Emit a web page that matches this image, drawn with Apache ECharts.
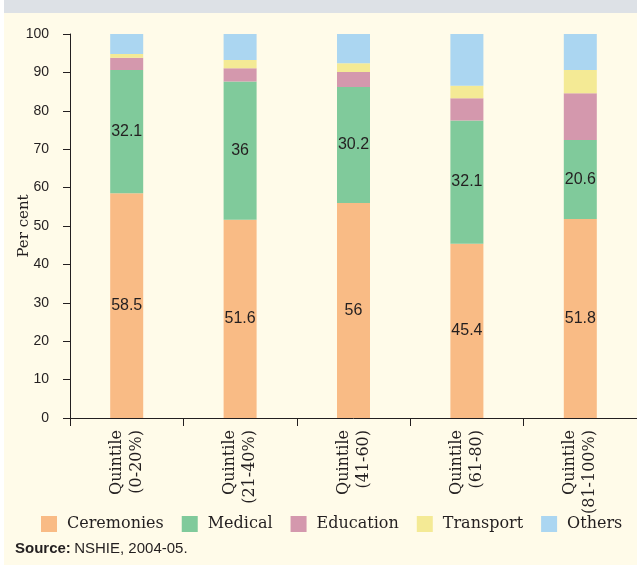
<!DOCTYPE html>
<html>
<head>
<meta charset="utf-8">
<script src="https://cdn.jsdelivr.net/npm/echarts@6/dist/echarts.min.js"></script>
<style>
	html, body { margin: 0; padding: 0; background: #fffbe9; }
	#chart { width: 637px; height: 565px; }
</style>
</head>
<body>
<div id="chart"></div>
<script>
// categories and stacked shares (per cent)
const quintiles = ['Quintile\n(0-20%)', 'Quintile\n(21-40%)', 'Quintile\n(41-60)', 'Quintile\n(61-80)', 'Quintile\n(81-100%)']
const ceremonies = [58.5, 51.6, 56, 45.4, 51.8]
const medical = [32.1, 36, 30.2, 32.1, 20.6]
const education = [3.2, 3.5, 3.9, 5.8, 12.2]
const transport = [1.0, 2.1, 2.3, 3.2, 6.0]
const others = [5.2, 6.8, 7.6, 13.5, 9.4]

const colors = ['#f9bb85', '#80ca9b', '#d498ad', '#f4ea95', '#abd6f1']
const serif = 'DejaVu Serif'
const sans = 'Liberation Sans'

const chart = echarts.init(document.getElementById('chart'))

const mkSeries = (name, data, showLabel) => {
	return {
		name: name,
		type: 'bar',
		stack: 'total',
		barWidth: 33,
		data: data,
		label: {
			show: showLabel,
			position: 'inside',
			color: '#231f20',
			fontFamily: sans,
			fontSize: 16,
		},
		emphasis: { disabled: true },
	}
}

const options = {
	backgroundColor: '#fffbe9',
	animation: false,
	color: colors,
	grid: {
		left: 70,
		right: 0,
		top: 34,
		bottom: 147,
		containLabel: false,
		outerBoundsMode: 'none',
	},
	graphic: [
		{
			type: 'rect',
			left: 0,
			top: 0,
			shape: { width: 637, height: 13 },
			style: { fill: '#dde1e6' },
		},
		{
			type: 'rect',
			left: 0,
			top: 0,
			shape: { width: 4, height: 565 },
			style: { fill: '#ffffff' },
		},
		{
			type: 'text',
			left: 15,
			top: 541,
			style: {
				text: '{b|Source:} {n|NSHIE, 2004-05.}',
				rich: {
					b: { fontFamily: sans, fontWeight: 'bold', fontSize: 15, fill: '#231f20' },
					n: { fontFamily: sans, fontSize: 15, fill: '#231f20' },
				},
			},
		},
	],
	legend: {
		left: 36,
		top: 511,
		itemWidth: 16,
		itemHeight: 16,
		itemGap: 18,
		icon: 'rect',
		textStyle: {
			fontFamily: serif,
			fontSize: 16,
			color: '#231f20',
			padding: [0, 0, 0, 5],
		},
		data: ['Ceremonies', 'Medical', 'Education', 'Transport', 'Others'],
	},
	xAxis: {
		type: 'category',
		data: quintiles,
		axisLine: { lineStyle: { color: '#231f20', width: 1 } },
		axisTick: { show: true, length: 8, lineStyle: { color: '#231f20' } },
		axisLabel: {
			rotate: 90,
			margin: 12,
			fontFamily: serif,
			fontSize: 16,
			lineHeight: 20,
			color: '#231f20',
		},
	},
	yAxis: {
		type: 'value',
		min: 0,
		max: 100,
		interval: 10,
		name: 'Per cent',
		nameLocation: 'middle',
		nameGap: 38,
		nameMoveOverlap: false,
		nameTextStyle: {
			fontFamily: serif,
			fontSize: 15,
			color: '#231f20',
		},
		axisLine: { show: true, lineStyle: { color: '#231f20', width: 1 } },
		axisTick: { show: true, length: 7, lineStyle: { color: '#231f20' } },
		splitLine: { show: false },
		axisLabel: {
			margin: 21,
			fontFamily: sans,
			fontSize: 14,
			color: '#231f20',
		},
	},
	series: [
		mkSeries('Ceremonies', ceremonies, true),
		mkSeries('Medical', medical, true),
		mkSeries('Education', education, false),
		mkSeries('Transport', transport, false),
		mkSeries('Others', others, false),
	],
}

chart.setOption(options)
</script>
</body>
</html>
